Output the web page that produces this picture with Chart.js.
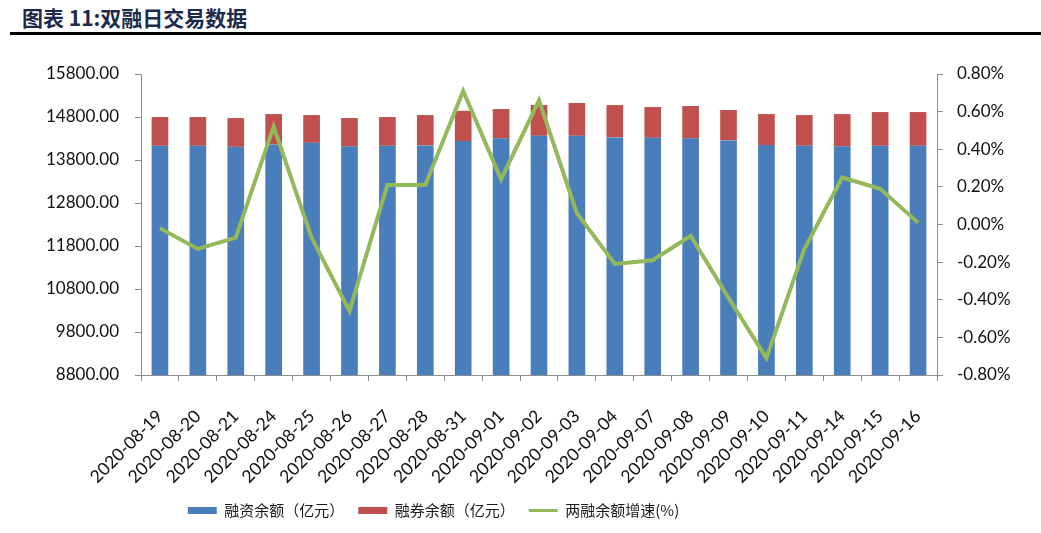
<!DOCTYPE html>
<html>
<head>
<meta charset="utf-8">
<script src="https://cdn.jsdelivr.net/npm/chart.js@4"></script>
<style>
  body { margin: 0; background: #fff; }
  #wrap { position: relative; width: 1041px; height: 533px; }
  #title {
    position: absolute; left: 22px; top: 2px;
    font: bold 21px "Noto Sans CJK SC", sans-serif; color: #1c2a4c;
  }
  #rule { position: absolute; left: 10px; top: 32px; width: 1031px; height: 3px; background: #000; }
  canvas { position: absolute; left: 0; top: 0; }
</style>
</head>
<body>
<div id="wrap">
  <div id="title">图表 11:双融日交易数据</div>
  <div id="rule"></div>
  <canvas id="chart" width="1041" height="533"></canvas>
</div>
<script>
const dates = ['2020-08-19', '2020-08-20', '2020-08-21', '2020-08-24', '2020-08-25', '2020-08-26', '2020-08-27',
  '2020-08-28', '2020-08-31', '2020-09-01', '2020-09-02', '2020-09-03', '2020-09-04', '2020-09-07',
  '2020-09-08', '2020-09-09', '2020-09-10', '2020-09-11', '2020-09-14', '2020-09-15', '2020-09-16'];

// 融资余额（亿元）
const financing = [14131, 14131, 14107, 14163, 14200, 14117, 14131, 14140, 14240, 14303, 14363,
  14363, 14326, 14317, 14303, 14256, 14147, 14131, 14117, 14131, 14131];

// 融券余额（亿元）
const lending = [668, 668, 668, 705, 645, 658, 668, 705, 705, 682, 715,
  762, 752, 714, 752, 706, 721, 714, 751, 784, 784];

// 两融余额增速(%)
const growth = [-0.02, -0.13, -0.07, 0.52, -0.07, -0.46, 0.21, 0.21, 0.71, 0.24, 0.66,
  0.06, -0.21, -0.19, -0.06, -0.39, -0.71, -0.13, 0.25, 0.19, 0.01];

const leftTicks = { min: 8800, max: 15800, step: 1000 };
const rightTicks = { min: -0.8, max: 0.8, step: 0.2 };

const axisColor = '#8c8c8c';
const yFont = { family: 'Lato, "Open Sans", sans-serif', size: 17 };
const xFont = { family: 'Lato, "Open Sans", sans-serif', size: 17.5 };

// the legend in the original sits left of centre
const legendShift = {
  id: 'legendShift',
  afterLayout(chart) {
    const lg = chart.legend;
    if (lg) {
      lg.left -= 87;
      lg.right -= 87;
    }
  },
};

const ctx = document.getElementById('chart').getContext('2d');
new Chart(ctx, {
  type: 'bar',
  data: {
    labels: dates,
    datasets: [
      {
        label: '融资余额（亿元）',
        data: financing,
        backgroundColor: '#4a7ebb',
        stack: 'bal',
        order: 1,
        categoryPercentage: 1,
        barPercentage: 0.44,
      },
      {
        label: '融券余额（亿元）',
        data: lending,
        backgroundColor: '#c0504d',
        stack: 'bal',
        order: 1,
        categoryPercentage: 1,
        barPercentage: 0.44,
      },
      {
        type: 'line',
        label: '两融余额增速(%)',
        data: growth,
        yAxisID: 'y1',
        borderColor: '#93b95a',
        backgroundColor: '#93b95a',
        borderWidth: 4,
        pointRadius: 0,
        tension: 0,
        order: 0,
      },
    ],
  },
  plugins: [legendShift],
  options: {
    responsive: false,
    animation: false,
    layout: { padding: { top: 74, bottom: 5, left: 0, right: 0 } },
    plugins: {
      tooltip: { enabled: false },
      legend: {
        position: 'bottom',
        labels: {
          usePointStyle: true,
          pointStyleWidth: 29,
          boxHeight: 7,
          padding: 14,
          color: '#1a1a1a',
          font: { family: '"Noto Sans CJK SC", sans-serif', size: 15 },
          sort: (a, b) => a.datasetIndex - b.datasetIndex,
          generateLabels: (chart) => {
            const items = Chart.defaults.plugins.legend.labels.generateLabels(chart);
            items.forEach((it) => {
              if (it.datasetIndex === 2) {
                it.pointStyle = 'line';
                it.lineWidth = 3;
              } else {
                it.pointStyle = 'rect';
                it.lineWidth = 0;
              }
            });
            return items;
          },
        },
      },
    },
    scales: {
      x: {
        stacked: true,
        grid: { display: true, drawOnChartArea: false, drawTicks: true, tickLength: 6, color: axisColor, offset: true },
        border: { color: axisColor, width: 1 },
        ticks: { minRotation: 45, maxRotation: 45, color: '#111', font: xFont, padding: 25, autoSkip: false },
        afterFit: (s) => { s.height = 114; },
      },
      y: {
        stacked: true,
        position: 'left',
        min: leftTicks.min,
        max: leftTicks.max,
        grid: { drawOnChartArea: false, tickLength: 6, color: axisColor },
        border: { color: axisColor, width: 1 },
        ticks: { stepSize: leftTicks.step, color: '#111', font: yFont, padding: 16, callback: (v) => v.toFixed(2) },
        afterFit: (s) => { s.width = 141; },
      },
      y1: {
        position: 'right',
        min: rightTicks.min,
        max: rightTicks.max,
        grid: { drawOnChartArea: false, tickLength: 6, color: axisColor },
        border: { color: axisColor, width: 1 },
        ticks: { stepSize: rightTicks.step, color: '#111', font: yFont, padding: 14, callback: (v) => v.toFixed(2) + '%' },
        afterFit: (s) => { s.width = 104; },
      },
    },
  },
});
</script>
</body>
</html>
